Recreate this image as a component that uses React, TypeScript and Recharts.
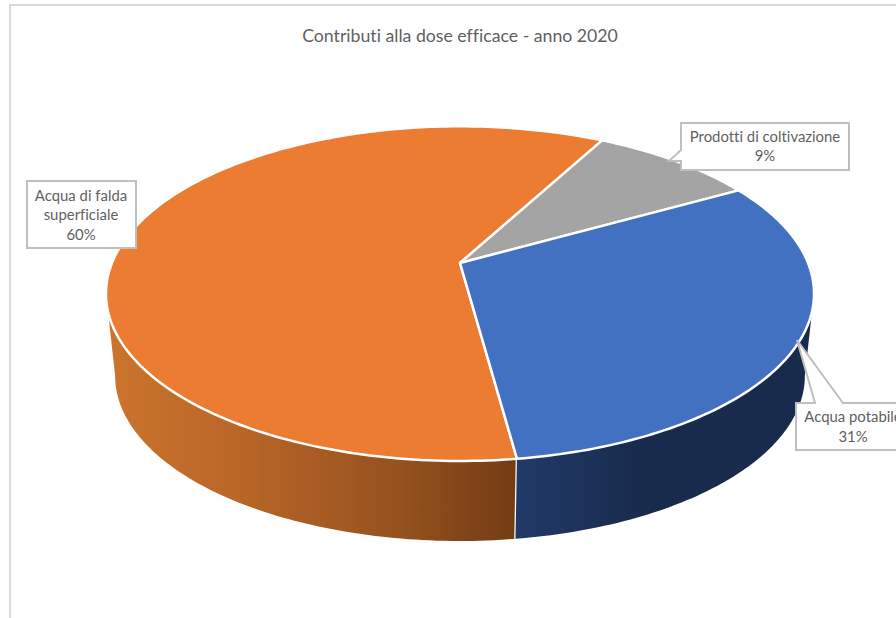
import { Pie, PieChart } from "recharts";

const categories = ["Acqua di falda superficiale", "Prodotti di coltivazione", "Acqua potabile"];
const shares = [60, 9, 31];
const topColors = ["#EB7C31", "#A4A4A4", "#4371C2"];
const wallFills = ["url(#wallOrange)", "#7c7c7c", "url(#wallBlue)"];

const rows = categories.map((name, i) => ({ name, value: shares[i] }));
const topRows = rows.map((r, i) => ({ ...r, fill: topColors[i] }));
const wallRows = rows.map((r, i) => ({ ...r, fill: wallFills[i] }));

const WIDTH = 896;
const HEIGHT = 618;
const FONT = "Lato, 'Open Sans', sans-serif";
const CALLOUT_STROKE = "#BFBFBF";

// Perspective projection of the flat pie disc: p is the foreshortening factor,
// apex and amp give the screen y of the disc centre and its swing.
type Disc = { cx: number; apex: number; amp: number; p: number; scale: number };
const TOP_DISC: Disc = { cx: 460, apex: 263, amp: 113.6, p: -0.183, scale: 1.003 };
const BOTTOM_DISC: Disc = { cx: 460, apex: 345.8, amp: 96.2, p: -0.183, scale: 0.977 };

// Where the disc outline turns from front to back, in chart degrees.
const SIDE_ANGLE = (Math.asin(-TOP_DISC.p) * 180) / Math.PI;
const FRONT_HIGH = -SIDE_ANGLE;
const FRONT_LOW = -180 + SIDE_ANGLE;

function project(disc: Disc, radius: number, angle: number) {
  const rad = (angle * Math.PI) / 180;
  const across = Math.cos(rad);
  const down = -Math.sin(rad);
  const w = 1 + disc.p * down;
  return [
    disc.cx + (radius * disc.scale * across) / w,
    (disc.apex + disc.amp * down) / w,
  ];
}

function rimPoints(disc: Disc, radius: number, start: number, end: number) {
  const steps = Math.max(2, Math.ceil(Math.abs(end - start)));
  const pts: number[][] = [];
  for (let i = 0; i <= steps; i++) {
    pts.push(project(disc, radius, start + ((end - start) * i) / steps));
  }
  return pts;
}

const toPath = (pts: number[][]) =>
  pts.map((p, i) => `${i ? "L" : "M"}${p[0].toFixed(2)} ${p[1].toFixed(2)}`).join(" ");

function TopSlice(props: any) {
  const { outerRadius, startAngle, endAngle, fill } = props;
  const rim = rimPoints(TOP_DISC, outerRadius, startAngle, endAngle);
  const d = `M${TOP_DISC.cx} ${TOP_DISC.apex} ${toPath(rim).replace("M", "L")} Z`;
  return <path d={d} fill={fill} stroke="#fff" strokeWidth={2.5} strokeLinejoin="round" />;
}

// Side wall of a slice: only the part of its arc that faces the viewer.
function WallSlice(props: any) {
  const { outerRadius, startAngle, endAngle, fill } = props;
  const turn = [0, 360].find((k) => startAngle + k > FRONT_LOW && endAngle + k < FRONT_HIGH);
  if (turn === undefined) return null;
  const high = Math.min(startAngle + turn, FRONT_HIGH);
  const low = Math.max(endAngle + turn, FRONT_LOW);
  const upper = rimPoints(TOP_DISC, outerRadius, high, low);
  const lower = rimPoints(BOTTOM_DISC, outerRadius, high, low);
  const outline = `${toPath(upper)} ${toPath([...lower].reverse()).replace("M", "L")} Z`;
  return (
    <g>
      <path d={outline} fill={fill} />
      {high < FRONT_HIGH && <path d={toPath([upper[0], lower[0]])} stroke="#fff" strokeWidth={2.5} />}
    </g>
  );
}

// Callout outlines and text placement for each slice, in data order.
const callouts = [
  {
    outline: "M27 181 H136 V248 H27 Z",
    lines: ["Acqua di falda", "superficiale"],
    x: 81,
    baselines: [201, 220, 240],
  },
  {
    outline: "M681 123 H849 V170 H681 V161 L669 161 L681 150 Z",
    lines: ["Prodotti di coltivazione"],
    x: 765,
    baselines: [142, 161],
  },
  {
    outline: "M796 403 H815 L797 340 L843 403 H912 V450 H796 Z",
    lines: ["Acqua potabile"],
    x: 853,
    baselines: [422, 442],
  },
];

function SliceLabel(props: any) {
  const { index, percent } = props;
  const c = callouts[index];
  const texts = [...c.lines, `${Math.round(percent * 100)}%`];
  return (
    <g>
      <path d={c.outline} fill="#fff" stroke={CALLOUT_STROKE} strokeWidth={2} />
      {texts.map((t, i) => (
        <text
          key={t}
          x={c.x}
          y={c.baselines[i]}
          textAnchor="middle"
          fontFamily={FONT}
          fontSize={14.9}
          fill="#5f5f5f"
          style={{ fontVariantLigatures: "none" }}
        >
          {t}
        </text>
      ))}
    </g>
  );
}

export default function App() {
  return (
    <div
      style={{
        position: "absolute",
        left: 0,
        top: 0,
        width: WIDTH,
        height: HEIGHT,
        overflow: "hidden",
        background: "#fff",
      }}
    >
      {/* chart area frame, open on the right and bottom */}
      <div style={{ position: "absolute", left: 9, top: 4, width: 2, height: HEIGHT, background: "#D9D9D9" }} />
      <div style={{ position: "absolute", left: 9, top: 4, width: WIDTH, height: 2, background: "#D9D9D9" }} />
      <div style={{ position: "absolute", left: 0, top: 0 }}>
        <PieChart width={WIDTH} height={HEIGHT} margin={{ top: 0, right: 0, bottom: 0, left: 0 }}>
          <defs>
            <linearGradient id="wallOrange" gradientUnits="userSpaceOnUse" x1={107} y1={0} x2={516} y2={0}>
              <stop offset="0" stopColor="#CB742D" />
              <stop offset="0.3" stopColor="#BB6728" />
              <stop offset="0.7" stopColor="#97521F" />
              <stop offset="1" stopColor="#743C14" />
            </linearGradient>
            <linearGradient id="wallBlue" gradientUnits="userSpaceOnUse" x1={516} y1={0} x2={640} y2={0}>
              <stop offset="0" stopColor="#213A68" />
              <stop offset="1" stopColor="#182B4D" />
            </linearGradient>
          </defs>
          <text
            x={460}
            y={42}
            textAnchor="middle"
            fontFamily={FONT}
            fontSize={17.7}
            fill="#5f5f5f"
            style={{ fontVariantLigatures: "none" }}
          >
            Contributi alla dose efficace - anno 2020
          </text>
          <Pie
            data={wallRows}
            dataKey="value"
            nameKey="name"
            cx={460}
            cy={263}
            outerRadius={347}
            startAngle={-82.3}
            endAngle={-442.3}
            shape={WallSlice}
            isAnimationActive={false}
          />
          <Pie
            data={topRows}
            dataKey="value"
            nameKey="name"
            cx={460}
            cy={263}
            outerRadius={347}
            startAngle={-82.3}
            endAngle={-442.3}
            shape={TopSlice}
            label={SliceLabel}
            labelLine={false}
            isAnimationActive={false}
          />
        </PieChart>
      </div>
    </div>
  );
}
